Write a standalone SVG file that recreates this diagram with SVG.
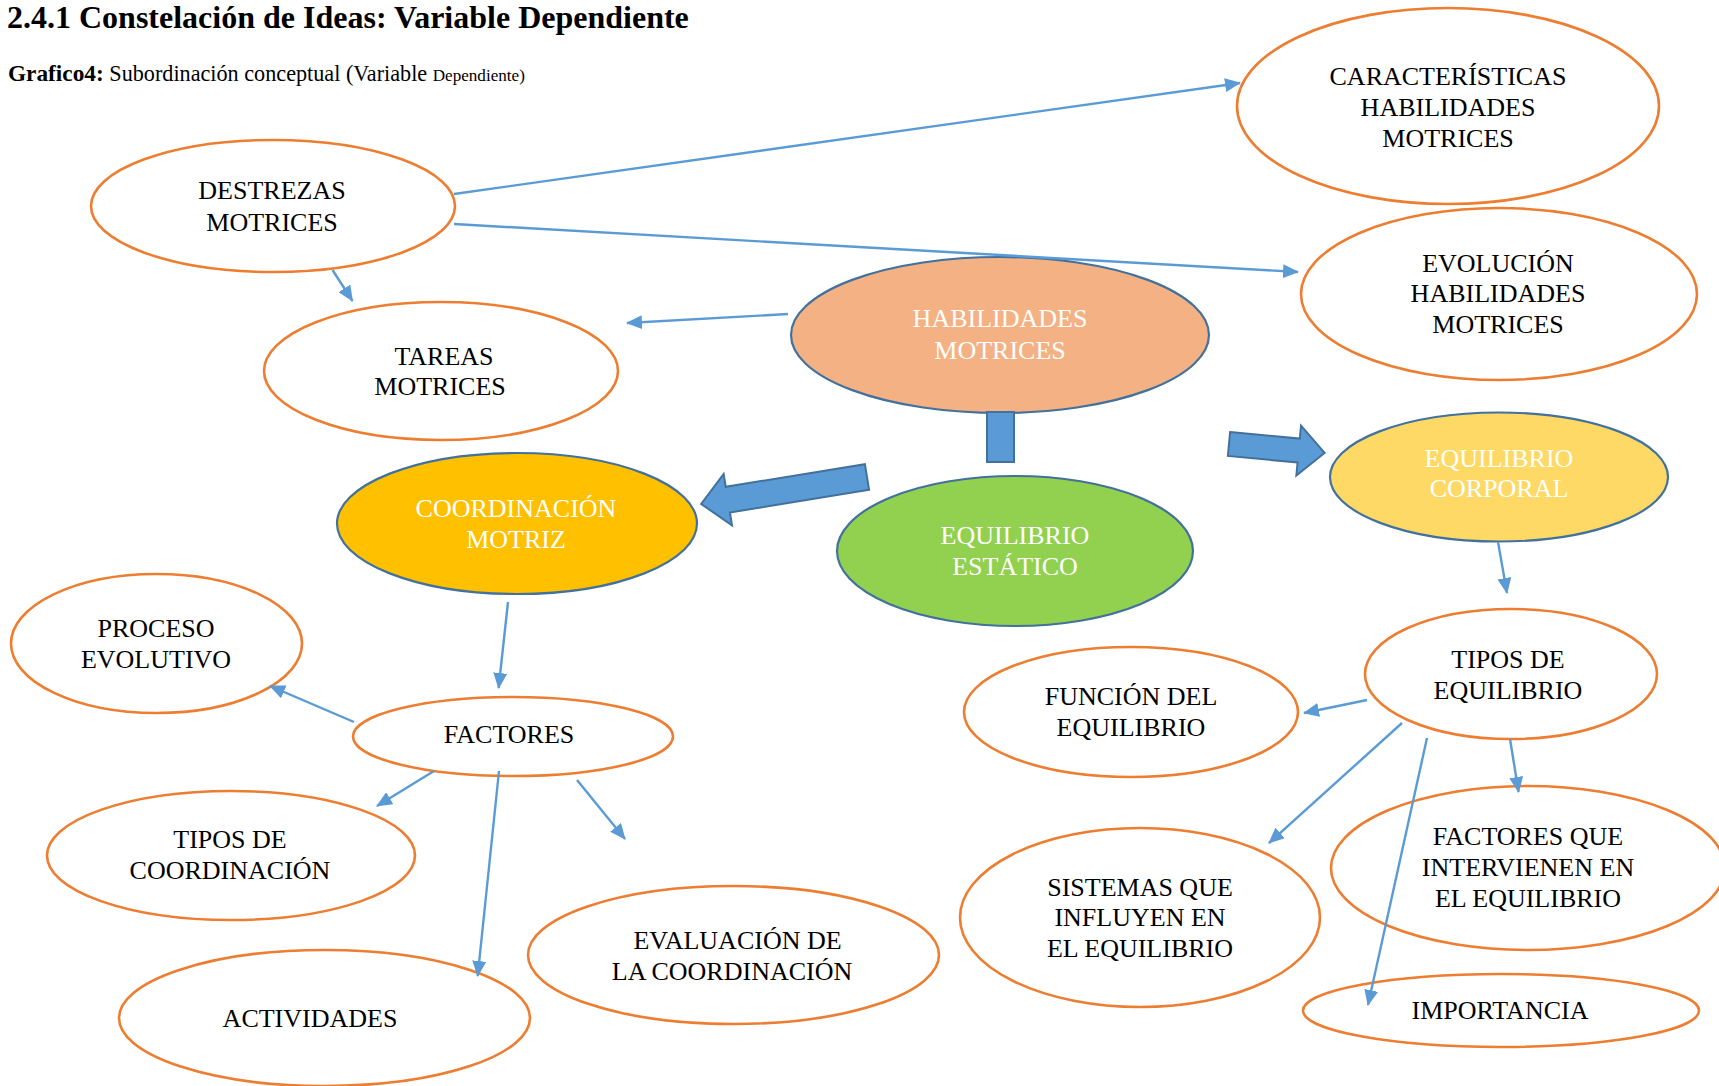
<svg xmlns="http://www.w3.org/2000/svg" width="1719" height="1086" viewBox="0 0 1719 1086">
<style>
.o{fill:#FFFFFF;stroke:#ED7D31;stroke-width:2.6}
.f{stroke:#41719C;stroke-width:2.2}
.t{font-family:"Liberation Serif","Times New Roman",serif;font-size:26px;fill:#000000;text-anchor:middle}
.w{fill:#FFFFFF}
.c{stroke:#5B9BD5;stroke-width:2.4;fill:none;marker-end:url(#ah)}
.blk{fill:#5B9BD5;stroke:#41719C;stroke-width:2}
</style>
<defs>
<marker id="ah" markerUnits="userSpaceOnUse" markerWidth="16" markerHeight="14" viewBox="0 0 16 14" refX="15" refY="7" orient="auto">
<path d="M0,0 L16,7 L0,14 z" fill="#5B9BD5"/>
</marker>
</defs>
<rect x="0" y="0" width="1719" height="1086" fill="#FFFFFF"/>
<text x="7" y="28" style="font-family:'Liberation Serif','Times New Roman',serif;font-size:32px;font-weight:bold;fill:#000">2.4.1 Constelación de Ideas: Variable Dependiente</text>
<text x="8" y="81" style="font-family:'Liberation Serif','Times New Roman',serif;fill:#000"><tspan style="font-weight:bold;font-size:23.3px">Grafico4:</tspan><tspan style="font-size:22.2px"> Subordinación conceptual (Variable </tspan><tspan style="font-size:17.1px">Dependiente)</tspan></text>

<g id="destrezas"><ellipse class="o" cx="273" cy="206" rx="182" ry="66"/><text class="t" x="272" y="199">DESTREZAS</text><text class="t" x="272" y="231">MOTRICES</text></g>
<g id="tareas"><ellipse class="o" cx="441" cy="371" rx="177" ry="69"/><text class="t" x="444" y="365">TAREAS</text><text class="t" x="440" y="395">MOTRICES</text></g>
<g id="caracteristicas"><ellipse class="o" cx="1448" cy="106" rx="211" ry="98"/><text class="t" x="1448" y="85">CARACTERÍSTICAS</text><text class="t" x="1448" y="116">HABILIDADES</text><text class="t" x="1448" y="147">MOTRICES</text></g>
<g id="evolucion"><ellipse class="o" cx="1499" cy="294" rx="198" ry="86"/><text class="t" x="1498" y="272">EVOLUCIÓN</text><text class="t" x="1498" y="302">HABILIDADES</text><text class="t" x="1498" y="333">MOTRICES</text></g>
<g id="habilidades"><ellipse class="f" fill="#F4B183" cx="1000" cy="335" rx="209" ry="78"/><text class="t w" x="1000" y="327">HABILIDADES</text><text class="t w" x="1000" y="359">MOTRICES</text></g>
<g id="coordinacion"><ellipse class="f" fill="#FFC000" cx="517" cy="523.5" rx="180" ry="70.5"/><text class="t w" x="516" y="517">COORDINACIÓN</text><text class="t w" x="516" y="548">MOTRIZ</text></g>
<g id="estatico"><ellipse class="f" fill="#92D050" cx="1015" cy="551" rx="178" ry="75"/><text class="t w" x="1015" y="544">EQUILIBRIO</text><text class="t w" x="1015" y="575">ESTÁTICO</text></g>
<g id="corporal"><ellipse class="f" fill="#FFD966" cx="1499" cy="477" rx="169" ry="64.5"/><text class="t w" x="1499" y="467">EQUILIBRIO</text><text class="t w" x="1499" y="497">CORPORAL</text></g>
<g id="proceso"><ellipse class="o" cx="156.5" cy="643.5" rx="145.5" ry="69.5"/><text class="t" x="156" y="637">PROCESO</text><text class="t" x="156" y="668">EVOLUTIVO</text></g>
<g id="factores"><ellipse class="o" cx="513" cy="736.5" rx="160" ry="39.5"/><text class="t" x="509" y="743">FACTORES</text></g>
<g id="tipos-coordinacion"><ellipse class="o" cx="231" cy="855.5" rx="184" ry="64.5"/><text class="t" x="230" y="848">TIPOS DE</text><text class="t" x="230" y="879">COORDINACIÓN</text></g>
<g id="actividades"><ellipse class="o" cx="324.5" cy="1018" rx="205.5" ry="68"/><text class="t" x="310" y="1027">ACTIVIDADES</text></g>
<g id="evaluacion"><ellipse class="o" cx="733.5" cy="955" rx="205.5" ry="69"/><text class="t" x="737.5" y="949">EVALUACIÓN DE</text><text class="t" x="732" y="980">LA COORDINACIÓN</text></g>
<g id="tipos-equilibrio"><ellipse class="o" cx="1511" cy="674" rx="146" ry="65"/><text class="t" x="1508" y="668">TIPOS DE</text><text class="t" x="1508" y="699">EQUILIBRIO</text></g>
<g id="funcion"><ellipse class="o" cx="1131" cy="712" rx="167" ry="65"/><text class="t" x="1131" y="705">FUNCIÓN DEL</text><text class="t" x="1131" y="736">EQUILIBRIO</text></g>
<g id="sistemas"><ellipse class="o" cx="1140" cy="917.5" rx="180" ry="89.5"/><text class="t" x="1140" y="896">SISTEMAS QUE</text><text class="t" x="1140" y="926">INFLUYEN EN</text><text class="t" x="1140" y="957">EL EQUILIBRIO</text></g>
<g id="factores-que"><ellipse class="o" cx="1528" cy="868" rx="197" ry="82"/><text class="t" x="1528" y="845">FACTORES QUE</text><text class="t" x="1528" y="876">INTERVIENEN EN</text><text class="t" x="1528" y="907">EL EQUILIBRIO</text></g>
<g id="importancia"><ellipse class="o" cx="1501" cy="1010.5" rx="198" ry="36.5"/><text class="t" x="1500" y="1019">IMPORTANCIA</text></g>

<g id="connectors">
<line class="c" x1="454" y1="194" x2="1240" y2="83"/>
<line class="c" x1="454" y1="224" x2="1298" y2="272"/>
<line class="c" x1="332.5" y1="270" x2="352.5" y2="301"/>
<line class="c" x1="788" y1="314" x2="627" y2="323"/>
<line class="c" x1="508" y1="602" x2="498.6" y2="688"/>
<line class="c" x1="354" y1="722" x2="270" y2="686"/>
<line class="c" x1="434" y1="771" x2="377" y2="806"/>
<line class="c" x1="499" y1="771" x2="477.7" y2="976"/>
<line class="c" x1="577" y1="780" x2="625" y2="839"/>
<line class="c" x1="1498" y1="542" x2="1507" y2="593"/>
<line class="c" x1="1367" y1="700" x2="1304" y2="713"/>
<line class="c" x1="1402" y1="723" x2="1269" y2="843"/>
<line class="c" x1="1427" y1="738" x2="1368" y2="1005"/>
<line class="c" x1="1510" y1="739" x2="1518.6" y2="792"/>
<rect class="blk" x="987" y="412" width="27" height="50"/>
<polygon class="blk" transform="translate(867,477) rotate(170.76)" points="0,-13 141,-13 141,-26 168,0 141,26 141,13 0,13"/>
<polygon class="blk" transform="translate(1229,444) rotate(5.36)" points="0,-12 70,-12 70,-25 96,0 70,25 70,12 0,12"/>
</g>
</svg>
